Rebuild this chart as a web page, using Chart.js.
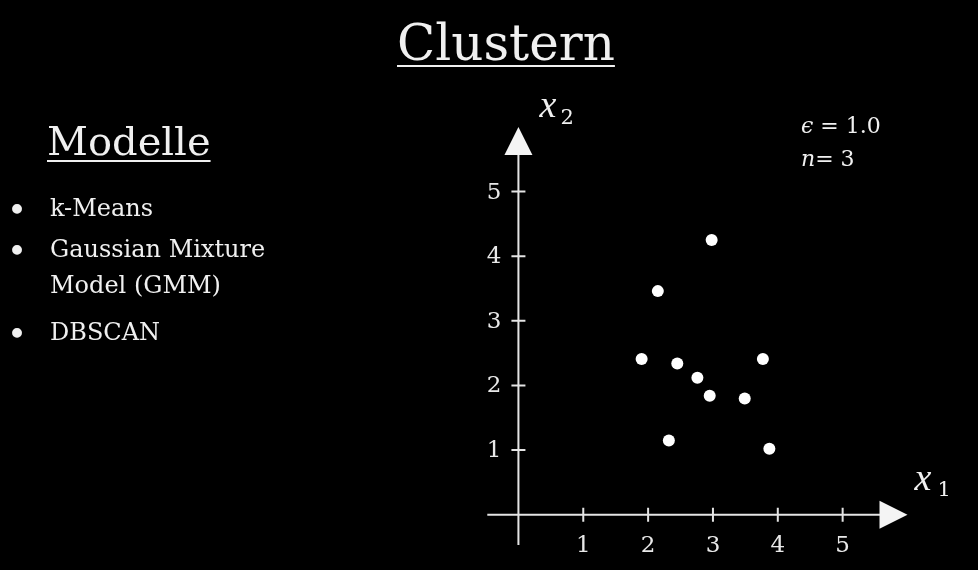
<!DOCTYPE html>
<html>
<head>
<meta charset="utf-8">
<script src="https://cdn.jsdelivr.net/npm/chart.js@4.4.0/dist/chart.umd.min.js"></script>
<style>
  html, body { margin: 0; padding: 0; background: #000; width: 978px; height: 570px; overflow: hidden; }
  #wrap { position: relative; width: 978px; height: 570px; }
  #myChart { position: absolute; left: 0; top: 0; }
  .t { position: absolute; color: #f0f0f0; font-family: "DejaVu Serif", serif; white-space: nowrap; line-height: 1; }
  .u { text-decoration: underline; text-decoration-thickness: 2px; text-underline-offset: 5px; }
  .b { font-size: 34px; left: 7px; }
  i { font-style: italic; }
</style>
</head>
<body>
<div id="wrap">
  <canvas id="myChart" width="978" height="570"></canvas>
  <div class="t u" style="left:397px; top:18px; font-size:50px;">Clustern</div>
  <div class="t u" style="left:47px; top:121px; font-size:40px;">Modelle</div>
  <div class="t b" style="top:193px;">•</div>
  <div class="t" style="left:50px; top:196px; font-size:24px;">k-Means</div>
  <div class="t b" style="top:234px;">•</div>
  <div class="t" style="left:50px; top:237px; font-size:24px;">Gaussian Mixture</div>
  <div class="t" style="left:50px; top:273px; font-size:24px;">Model (GMM)</div>
  <div class="t b" style="top:317px;">•</div>
  <div class="t" style="left:50px; top:320px; font-size:24px;">DBSCAN</div>
  <div class="t" style="left:801px; top:115px; font-size:22px;"><i>ϵ</i> = 1.0</div>
  <div class="t" style="left:801px; top:148px; font-size:22px;"><i>n</i>= 3</div>
</div>
<script>
// Datenpunkte (x1, x2)
var x1Values = [1.90, 2.15, 2.98, 2.45, 2.76, 2.95, 2.32, 3.49, 3.77, 3.87];
var x2Values = [2.41, 3.46, 4.25, 2.34, 2.12, 1.84, 1.15, 1.80, 2.41, 1.02];
var xTicks = [1, 2, 3, 4, 5];
var yTicks = [1, 2, 3, 4, 5];

var points = x1Values.map(function (v, i) {
  return { x: v, y: x2Values[i] };
});

// Achsen mit Pfeilen, Strichen und Beschriftung
var axesPlugin = {
  id: "axes",
  beforeDatasetsDraw: function (chart) {
    var ctx = chart.ctx;
    var xs = chart.scales.x, ys = chart.scales.y;
    var ox = xs.getPixelForValue(0), oy = ys.getPixelForValue(0);
    var xEnd = xs.getPixelForValue(6), yEnd = ys.getPixelForValue(6);
    var xStart = xs.getPixelForValue(-0.48), yStart = ys.getPixelForValue(-0.47);
    var head = 28, half = 14, tick = 7;

    ctx.save();
    ctx.strokeStyle = "#e4e4e4";
    ctx.fillStyle = "#f4f4f4";
    ctx.lineWidth = 2;

    ctx.beginPath();
    ctx.moveTo(xStart, oy);
    ctx.lineTo(xEnd - head + 2, oy);
    ctx.moveTo(ox, yStart);
    ctx.lineTo(ox, yEnd + head - 2);
    ctx.stroke();

    // Pfeilspitzen
    ctx.beginPath();
    ctx.moveTo(xEnd, oy);
    ctx.lineTo(xEnd - head, oy - half);
    ctx.lineTo(xEnd - head, oy + half);
    ctx.closePath();
    ctx.fill();
    ctx.beginPath();
    ctx.moveTo(ox, yEnd);
    ctx.lineTo(ox - half, yEnd + head);
    ctx.lineTo(ox + half, yEnd + head);
    ctx.closePath();
    ctx.fill();

    // Striche + Zahlen
    ctx.font = '23px "DejaVu Serif"';
    ctx.fillStyle = "#e8e8e8";
    ctx.beginPath();
    xTicks.forEach(function (v) {
      var px = xs.getPixelForValue(v);
      ctx.moveTo(px, oy - tick);
      ctx.lineTo(px, oy + tick);
    });
    yTicks.forEach(function (v) {
      var py = ys.getPixelForValue(v);
      ctx.moveTo(ox - tick, py);
      ctx.lineTo(ox + tick, py);
    });
    ctx.stroke();

    ctx.textAlign = "center";
    ctx.textBaseline = "middle";
    xTicks.forEach(function (v) {
      ctx.fillText(String(v), xs.getPixelForValue(v), oy + 31);
    });
    ctx.textAlign = "right";
    yTicks.forEach(function (v) {
      ctx.fillText(String(v), ox - 17, ys.getPixelForValue(v) + 1);
    });

    // Achsentitel x1, x2
    ctx.textAlign = "left";
    ctx.textBaseline = "alphabetic";
    ctx.fillStyle = "#f0f0f0";
    ctx.font = 'italic 38px "Liberation Serif"';
    ctx.fillText("x", xEnd + 7, oy - 25);
    ctx.fillText("x", ox + 21, yEnd - 10);
    ctx.font = '21px "DejaVu Serif"';
    ctx.fillText("1", xEnd + 30, oy - 19);
    ctx.fillText("2", ox + 42, yEnd - 3);
    ctx.restore();
  }
};

new Chart("myChart", {
  type: "scatter",
  data: {
    datasets: [
      {
        data: points,
        backgroundColor: "#ffffff",
        borderWidth: 0,
        pointRadius: 6,
      },
    ],
  },
  options: {
    responsive: false,
    animation: false,
    layout: { padding: { left: 486, right: 77, top: 127, bottom: 23 } },
    scales: {
      x: { type: "linear", display: false, min: -0.5, max: 5.9 },
      y: { type: "linear", display: false, min: -0.5, max: 6.0 },
    },
    plugins: {
      legend: { display: false },
      tooltip: { enabled: false },
    },
  },
  plugins: [axesPlugin],
});
</script>
</body>
</html>
